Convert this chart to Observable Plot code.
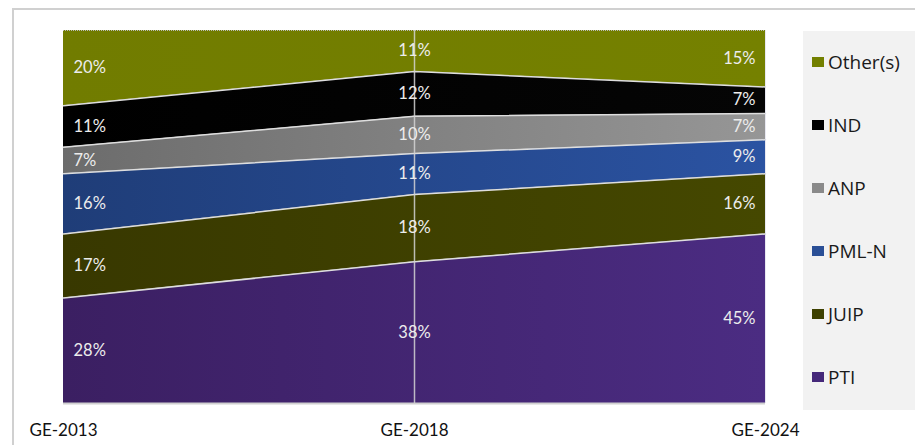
<!DOCTYPE html>
<html><head><meta charset="utf-8">
<script src="https://cdn.jsdelivr.net/npm/d3@7"></script>
<script src="https://cdn.jsdelivr.net/npm/@observablehq/plot@0.6"></script>
<style>
body{margin:0;background:#fff;font-family:Lato,"Open Sans",sans-serif;}
#wrap{position:relative;width:915px;height:445px;overflow:hidden;}
#frame{position:absolute;left:12px;top:8px;width:930px;height:470px;border:2px solid #d0d0d0;box-sizing:border-box;}
#legend{position:absolute;left:803px;top:31px;width:112px;height:379px;background:#f2f2f2;}
.item{position:absolute;left:9px;height:22px;display:flex;align-items:center;font-size:19px;font-family:"Open Sans",sans-serif;color:#1a1a1a;}
.sw{width:12px;height:10px;margin-right:4px;}
#chart{position:absolute;left:0;top:0;}
</style></head>
<body><div id="wrap"><div id="frame"></div><div id="chart"></div><div id="legend"></div></div>
<script>
const elections = ["GE-2013", "GE-2018", "GE-2024"];
const parties = ["PTI", "JUIP", "PML-N", "ANP", "IND", "Other(s)"];
const PTI = [28, 38, 45];
const JUIP = [17, 18, 16];
const PMLN = [16, 11, 9];
const ANP = [7, 10, 7];
const IND = [11, 12, 7];
const Others = [20, 11, 15];
const seriesValues = [PTI, JUIP, PMLN, ANP, IND, Others];
const legendOrder = ["Other(s)", "IND", "ANP", "PML-N", "JUIP", "PTI"];
// gradient stops (left, right) and legend swatch colours per party
const gradLeft = ["#3b1f62", "#383800", "#1f3d78", "#6c6c6c", "#000000", "#717c00"];
const gradRight = ["#4b2c82", "#454800", "#2b53a2", "#969696", "#050505", "#758100"];
const swatch = ["#45287a", "#3d4000", "#2a4f96", "#8a8a8a", "#000000", "#738000"];

const data = [];
parties.forEach((p, i) => elections.forEach((e, j) => data.push({party: p, election: e, share: seriesValues[i][j], label: seriesValues[i][j] + "%"})));

const base = {x: "election", y: "share", z: "party", order: parties, offset: "normalize"};
const labelStyle = {text: "label", fill: "#ececec", fontSize: 16.5, fontFamily: "Lato, sans-serif"};

const chart = Plot.plot({
  width: 915, height: 445,
  marginLeft: 63, marginRight: 150, marginTop: 30, marginBottom: 42,
  style: {background: "transparent", fontFamily: "Lato, sans-serif", overflow: "visible"},
  x: {type: "point", domain: elections, padding: 0, label: null},
  y: {domain: [0, 1], axis: null},
  color: {domain: parties, range: parties.map((p, i) => `url(#grad${i})`)},
  marks: [
    Plot.areaY(data, Plot.stackY({...base, fill: "party"})),
    Plot.lineY(data, Plot.filter(d => d.party !== "Other(s)", Plot.stackY2({...base, stroke: "#dedede", strokeWidth: 1.5}))),
    Plot.ruleX(["GE-2018"], {stroke: "#d4d4d4", strokeWidth: 1.5, strokeOpacity: 0.85}),
    Plot.ruleX(["GE-2024"], {stroke: "#d8d8e8", strokeWidth: 1, strokeOpacity: 0.6}),
    Plot.ruleY([1], {stroke: "#bdbdbd", strokeDasharray: "1,1"}),
    Plot.ruleY([0], {stroke: "#d0d0d0", strokeWidth: 2}),
    Plot.text(data, Plot.filter(d => d.election === "GE-2013", Plot.stackY({...base, ...labelStyle, textAnchor: "start", dx: 10}))),
    Plot.text(data, Plot.filter(d => d.election === "GE-2018", Plot.stackY({...base, ...labelStyle, textAnchor: "middle"}))),
    Plot.text(data, Plot.filter(d => d.election === "GE-2024", Plot.stackY({...base, ...labelStyle, textAnchor: "end", dx: -10}))),
    Plot.axisX({tickSize: 0, tickPadding: 20, fontSize: 17, fill: "#111", fontFamily: "Lato, sans-serif"})
  ]
});

const ns = "http://www.w3.org/2000/svg";
const defs = document.createElementNS(ns, "defs");
parties.forEach((p, i) => {
  const g = document.createElementNS(ns, "linearGradient");
  g.setAttribute("id", "grad" + i);
  g.setAttribute("x1", "0"); g.setAttribute("x2", "1"); g.setAttribute("y1", "0"); g.setAttribute("y2", "0");
  [[0, gradLeft[i]], [1, gradRight[i]]].forEach(([o, c]) => {
    const s = document.createElementNS(ns, "stop");
    s.setAttribute("offset", o); s.setAttribute("stop-color", c);
    g.appendChild(s);
  });
  defs.appendChild(g);
});
chart.insertBefore(defs, chart.firstChild);
document.getElementById("chart").appendChild(chart);

const legend = document.getElementById("legend");
legendOrder.forEach((p, k) => {
  const i = parties.indexOf(p);
  const item = document.createElement("div");
  item.className = "item";
  item.style.top = (20 + k * 63) + "px";
  item.innerHTML = `<span class="sw" style="background:${swatch[i]}"></span><span>${p}</span>`;
  legend.appendChild(item);
});
</script>
</body></html>
